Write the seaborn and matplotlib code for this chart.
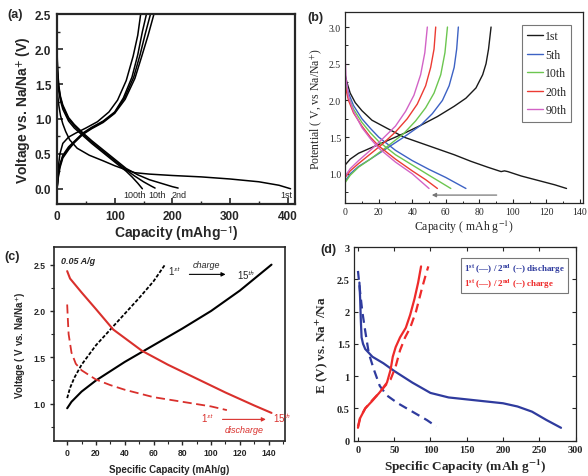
import numpy as np
import pandas as pd
import matplotlib
matplotlib.use("Agg")
import matplotlib.pyplot as plt
from matplotlib.lines import Line2D
from matplotlib.ticker import MultipleLocator, FormatStrFormatter
import seaborn as sns

sns.set_style("ticks")
plt.rcParams["font.family"] = ["Liberation Sans", "DejaVu Sans"]

SANS = "Liberation Sans"
SERIF = "Liberation Serif"

# ---------------- (a) data ----------------
a_dis_1st_x = [0, 1, 3, 6, 10, 15, 22, 35, 56, 80, 100, 120, 135, 160, 200, 250, 300, 350, 385, 405]
a_dis_1st_y = [1.5, 1.35, 1.2, 1.05, 0.93, 0.82, 0.7, 0.58, 0.48, 0.4, 0.33, 0.27, 0.23, 0.21, 0.19, 0.17, 0.14, 0.1, 0.05, 0.0]
a_dis_2nd_x = [0, 1, 3, 6, 10, 20, 30, 45, 60, 75, 90, 105, 120, 140, 160, 180, 200, 210]
a_dis_2nd_y = [1.98, 1.72, 1.48, 1.32, 1.2, 1.02, 0.92, 0.8, 0.69, 0.59, 0.49, 0.39, 0.29, 0.2, 0.13, 0.08, 0.03, 0.01]
a_dis_10th_x = [0, 1, 3, 6, 10, 20, 30, 45, 60, 75, 90, 105, 120, 135, 150, 163, 170]
a_dis_10th_y = [1.92, 1.68, 1.45, 1.3, 1.18, 1.0, 0.9, 0.78, 0.67, 0.57, 0.47, 0.37, 0.27, 0.18, 0.1, 0.04, 0.01]
a_dis_100th_x = [0, 1, 3, 6, 10, 20, 30, 45, 60, 75, 90, 105, 120, 130, 140, 148]
a_dis_100th_y = [1.85, 1.62, 1.4, 1.26, 1.14, 0.97, 0.87, 0.76, 0.65, 0.55, 0.45, 0.35, 0.25, 0.17, 0.08, 0.0]

a_chg_1_x = [0, 2, 5, 10, 20, 33, 50, 70, 90, 105, 120, 132, 140, 145]
a_chg_1_y = [0.0, 0.3, 0.5, 0.65, 0.74, 0.8, 0.87, 0.96, 1.1, 1.27, 1.55, 1.9, 2.2, 2.5]
a_chg_2_x = [0, 2, 5, 10, 20, 30, 45, 60, 80, 100, 115, 130, 140, 148, 155]
a_chg_2_y = [0.0, 0.2, 0.35, 0.48, 0.6, 0.68, 0.8, 0.88, 0.97, 1.1, 1.3, 1.6, 1.92, 2.25, 2.5]
a_chg_3_x = [0, 2, 5, 10, 20, 30, 45, 60, 80, 100, 117, 133, 144, 153, 162]
a_chg_3_y = [0.0, 0.18, 0.33, 0.46, 0.58, 0.67, 0.79, 0.87, 0.96, 1.09, 1.3, 1.6, 1.92, 2.22, 2.5]
a_chg_4_x = [0, 2, 5, 10, 20, 30, 45, 60, 80, 100, 118, 135, 147, 158, 168]
a_chg_4_y = [0.0, 0.15, 0.3, 0.44, 0.56, 0.66, 0.78, 0.86, 0.95, 1.08, 1.28, 1.58, 1.9, 2.2, 2.5]

a_labels = ["100th", "10th", "2nd", "1st"]
a_label_x = [135, 173, 212, 397]

# ---------------- (b) data ----------------
b_cycles = ["1st", "5th", "10th", "20th", "90th"]
b_colors = ["#1a1a1a", "#3d62c4", "#6cc650", "#ec3b33", "#d263c6"]

b_chg_x = [
    [0, 3, 8, 15, 25, 35, 45, 55, 65, 72, 78, 82, 84, 85.5, 86.5, 87],
    [0, 3, 8, 15, 25, 35, 45, 52, 58, 62, 65, 66.5, 67.5],
    [0, 3, 8, 15, 25, 35, 42, 48, 53, 57, 59.5, 61],
    [0, 3, 8, 15, 22, 30, 37, 43, 48, 51, 53, 54],
    [0, 3, 8, 15, 22, 30, 36, 41, 45, 47.5, 49],
]
b_chg_y = [
    [1.12, 1.2, 1.28, 1.35, 1.45, 1.55, 1.66, 1.78, 1.92, 2.03, 2.17, 2.35, 2.5, 2.7, 2.9, 3.0],
    [0.9, 1.0, 1.1, 1.2, 1.35, 1.5, 1.66, 1.82, 2.0, 2.2, 2.45, 2.7, 3.0],
    [0.88, 0.98, 1.09, 1.2, 1.37, 1.55, 1.72, 1.9, 2.1, 2.35, 2.65, 3.0],
    [0.95, 1.04, 1.14, 1.27, 1.4, 1.57, 1.75, 1.95, 2.2, 2.45, 2.7, 3.0],
    [0.97, 1.07, 1.18, 1.32, 1.47, 1.65, 1.85, 2.07, 2.35, 2.65, 3.0],
]
b_dis_x = [
    [0, 1, 3, 6, 10, 16, 25, 35, 45, 55, 65, 75, 85, 93, 95, 97, 105, 115, 125, 132],
    [0, 2, 5, 10, 15, 20, 30, 40, 50, 60, 72],
    [0, 2, 5, 10, 15, 20, 30, 40, 50, 63],
    [0, 2, 5, 10, 15, 20, 30, 40, 48, 55],
    [0, 0.5, 2, 5, 10, 15, 20, 30, 40, 50],
]
b_dis_y = [
    [2.35, 2.25, 2.1, 1.97, 1.86, 1.73, 1.62, 1.5, 1.42, 1.34, 1.26, 1.17, 1.09, 1.03, 1.04, 1.03, 0.97, 0.91, 0.85, 0.8],
    [2.3, 2.1, 1.93, 1.75, 1.62, 1.5, 1.32, 1.18, 1.06, 0.95, 0.8],
    [2.25, 2.05, 1.88, 1.7, 1.56, 1.44, 1.26, 1.12, 0.98, 0.8],
    [2.2, 2.0, 1.83, 1.65, 1.5, 1.38, 1.2, 1.04, 0.92, 0.8],
    [2.6, 2.3, 2.05, 1.85, 1.63, 1.48, 1.35, 1.16, 1.0, 0.8],
]

# ---------------- (c) data ----------------
c_chg_1st_x = [0, 2, 5, 10, 20, 30, 40, 50, 60, 68]
c_chg_1st_y = [1.06, 1.17, 1.28, 1.42, 1.63, 1.8, 1.97, 2.14, 2.32, 2.5]
c_chg_15th_x = [0, 3, 10, 20, 40, 60, 80, 100, 120, 142]
c_chg_15th_y = [0.95, 1.02, 1.13, 1.25, 1.45, 1.63, 1.81, 2.0, 2.22, 2.5]
c_dis_15th_x = [0, 2, 10, 20, 32, 52, 70, 90, 110, 130, 142]
c_dis_15th_y = [2.43, 2.35, 2.2, 2.02, 1.8, 1.57, 1.42, 1.27, 1.12, 0.98, 0.9]
c_dis_1st_x = [0, 0.5, 1, 3, 6, 10, 20, 30, 40, 60, 80, 100, 111]
c_dis_1st_y = [2.07, 1.9, 1.75, 1.55, 1.43, 1.36, 1.26, 1.2, 1.15, 1.07, 1.02, 0.97, 0.93]

# ---------------- (d) data ----------------
d_dis_1st_x = [2, 3, 4, 5, 7, 10, 20, 35, 50, 75, 100, 125, 150, 200, 220, 240, 260, 280]
d_dis_1st_y = [2.45, 2.2, 1.85, 1.6, 1.5, 1.42, 1.3, 1.2, 1.08, 0.9, 0.74, 0.67, 0.64, 0.58, 0.53, 0.45, 0.32, 0.2]
d_dis_2nd_x = [0, 3, 6, 10, 15, 22, 30, 40, 55, 75, 95, 108]
d_dis_2nd_y = [2.63, 2.3, 2.0, 1.7, 1.35, 1.1, 0.85, 0.7, 0.58, 0.45, 0.32, 0.22]
d_chg_1st_x = [0, 3, 10, 20, 30, 40, 45, 48, 52, 58, 66, 72, 78, 83, 87]
d_chg_1st_y = [0.2, 0.35, 0.5, 0.62, 0.75, 0.9, 1.1, 1.3, 1.45, 1.6, 1.75, 1.95, 2.2, 2.45, 2.7]
d_chg_2nd_x = [0, 3, 10, 20, 30, 36, 45, 52, 58, 65, 72, 80, 88, 93, 97]
d_chg_2nd_y = [0.22, 0.36, 0.5, 0.63, 0.75, 0.83, 0.95, 1.15, 1.4, 1.6, 1.75, 2.0, 2.35, 2.55, 2.7]


def line(ax, x, y, color, lw, ls="-"):
    df = pd.DataFrame({"x": x, "y": y})
    sns.lineplot(data=df, x="x", y="y", ax=ax, color=color, lw=lw,
                 linestyle=ls, sort=False, estimator=None)


def style_ticks(ax, family, size, weight="bold"):
    for lab in ax.get_xticklabels() + ax.get_yticklabels():
        lab.set_fontfamily(family)
        lab.set_fontsize(size)
        lab.set_fontweight(weight)


fig = plt.figure(figsize=(5.88, 4.77), dpi=100)

# ================= (a) =================
ax = fig.add_axes([0.097, 0.570, 0.405, 0.398])
for x, y in [(a_dis_1st_x, a_dis_1st_y), (a_dis_2nd_x, a_dis_2nd_y),
             (a_dis_10th_x, a_dis_10th_y), (a_dis_100th_x, a_dis_100th_y),
             (a_chg_1_x, a_chg_1_y), (a_chg_2_x, a_chg_2_y),
             (a_chg_3_x, a_chg_3_y), (a_chg_4_x, a_chg_4_y)]:
    line(ax, x, y, "black", 1.1)
for lab, lx in zip(a_labels, a_label_x):
    ax.text(lx, -0.085, lab, ha="center", va="center", fontsize=6.5, family=SANS)
ax.set_xlim(0, 413)
ax.set_ylim(-0.22, 2.5)
ax.xaxis.set_major_locator(MultipleLocator(100))
ax.xaxis.set_minor_locator(MultipleLocator(50))
ax.yaxis.set_major_locator(MultipleLocator(0.5))
ax.yaxis.set_minor_locator(MultipleLocator(0.25))
ax.yaxis.set_major_formatter(FormatStrFormatter("%.1f"))
ax.tick_params(which="both", direction="in", pad=4)
ax.tick_params(which="major", length=4, width=1.2)
ax.tick_params(which="minor", length=2.5, width=1)
for s in ax.spines.values():
    s.set_linewidth(1.6)
style_ticks(ax, SANS, 8.5)
ax.set_xlabel(r"Capacity (mAhg$^{\mathbf{-1}}$)", fontsize=10, fontweight="bold",
              family=SANS, math_fontfamily="stixsans", labelpad=1)
ax.set_ylabel(r"Voltage vs. Na/Na$^{\mathbf{+}}$ (V)", fontsize=10, fontweight="bold",
              family=SANS, math_fontfamily="stixsans", labelpad=2)
fig.text(0.012, 0.968, "(a)", fontsize=9, fontweight="bold", family=SANS, va="center")

# ================= (b) =================
ax = fig.add_axes([0.587, 0.572, 0.405, 0.400])
for cyc, col, cx, cy, dx, dy in zip(b_cycles, b_colors, b_chg_x, b_chg_y, b_dis_x, b_dis_y):
    line(ax, cx, cy, col, 1.0)
    line(ax, dx, dy, col, 1.0)
ax.annotate("", xy=(50, 0.71), xytext=(92, 0.71),
            arrowprops=dict(arrowstyle="-|>", color="#777777", lw=0.9,
                            mutation_scale=6))
handles = [Line2D([], [], color=c, lw=1.0) for c in b_colors]
leg = ax.legend(handles, b_cycles, loc="upper right", bbox_to_anchor=(0.975, 0.965),
                frameon=True, fancybox=False, handlelength=1.3, handletextpad=0.2,
                labelspacing=0.55, borderpad=0.45, prop={"family": SERIF, "size": 8.5})
leg.get_frame().set_edgecolor("#555555")
leg.get_frame().set_linewidth(0.8)
ax.set_xlim(0, 142)
ax.set_ylim(0.6, 3.2)
ax.xaxis.set_major_locator(MultipleLocator(20))
ax.xaxis.set_minor_locator(MultipleLocator(10))
ax.yaxis.set_major_locator(MultipleLocator(0.5))
ax.yaxis.set_minor_locator(MultipleLocator(0.25))
ax.yaxis.set_major_formatter(FormatStrFormatter("%.1f"))
ax.set_yticks([1.0, 1.5, 2.0, 2.5, 3.0])
ax.tick_params(which="both", direction="in", pad=3)
ax.tick_params(which="major", length=3, width=0.8)
ax.tick_params(which="minor", length=1.8, width=0.7)
for s in ax.spines.values():
    s.set_linewidth(0.9)
style_ticks(ax, SERIF, 7, "normal")
ax.set_xlabel("Capacity ( mAh g$^{-1}$)", fontsize=8.5, family=SERIF,
              math_fontfamily="stix", labelpad=1)
ax.set_ylabel("Potential ( V, vs Na/Na$^{+}$)", fontsize=8.5, family=SERIF,
              math_fontfamily="stix", labelpad=3)
fig.text(0.523, 0.962, "(b)", fontsize=9, fontweight="bold", family=SANS, va="center")

# ================= (c) =================
ax = fig.add_axes([0.091, 0.074, 0.394, 0.406])
red = "#d9302c"
line(ax, c_chg_1st_x, c_chg_1st_y, "black", 1.3, (0, (2, 1)))
line(ax, c_chg_15th_x, c_chg_15th_y, "black", 1.5)
line(ax, c_dis_15th_x, c_dis_15th_y, red, 1.5)
line(ax, c_dis_1st_x, c_dis_1st_y, red, 1.3, (0, (5, 2.5)))
ax.text(-4.6, 2.55, "0.05 A/g", fontsize=6.5, fontweight="bold", style="italic",
        family=SANS, va="center")
ax.text(70, 2.44, "1$^{st}$", fontsize=7, family=SANS, va="center",
        math_fontfamily="stixsans")
ax.text(97, 2.5, "charge", fontsize=6.5, style="italic", family=SANS,
        ha="center", va="center")
ax.annotate("", xy=(112, 2.395), xytext=(83, 2.395),
            arrowprops=dict(arrowstyle="-|>", color="black", lw=0.8, mutation_scale=6))
ax.text(118, 2.4, "15$^{th}$", fontsize=7, family=SANS, va="center",
        math_fontfamily="stixsans")
ax.text(93, 0.85, "1$^{st}$", fontsize=7, family=SANS, va="center", color=red,
        math_fontfamily="stixsans")
ax.annotate("", xy=(140, 0.83), xytext=(106, 0.83),
            arrowprops=dict(arrowstyle="-|>", color=red, lw=0.8, mutation_scale=6))
ax.text(123, 0.72, "discharge", fontsize=6.5, style="italic", family=SANS,
        ha="center", va="center", color=red)
ax.text(143, 0.85, "15$^{th}$", fontsize=7, family=SANS, va="center", color=red,
        math_fontfamily="stixsans")
ax.set_xlim(-9.5, 151.5)
ax.set_ylim(0.6, 2.69)
ax.xaxis.set_major_locator(MultipleLocator(20))
ax.xaxis.set_minor_locator(MultipleLocator(10))
ax.yaxis.set_major_locator(MultipleLocator(0.5))
ax.yaxis.set_minor_locator(MultipleLocator(0.25))
ax.yaxis.set_major_formatter(FormatStrFormatter("%.1f"))
ax.set_xticks([0, 20, 40, 60, 80, 100, 120, 140])
ax.set_yticks([1.0, 1.5, 2.0, 2.5])
ax.tick_params(which="both", direction="out", pad=2.5)
ax.tick_params(which="major", length=3, width=1)
ax.tick_params(which="minor", length=2, width=0.8)
for s in ax.spines.values():
    s.set_linewidth(1.2)
style_ticks(ax, SANS, 6.2)
ax.set_xlabel("Specific Capacity (mAh/g)", fontsize=7, fontweight="bold",
              family=SANS, labelpad=5)
ax.set_ylabel(r"Voltage ( V vs. Na/Na$^{\mathbf{+}}$)", fontsize=7, fontweight="bold",
              family=SANS, math_fontfamily="stixsans", labelpad=4)
fig.text(0.008, 0.462, "(c)", fontsize=9, fontweight="bold", family=SANS, va="center")

# ================= (d) =================
ax = fig.add_axes([0.602, 0.074, 0.378, 0.406])
blue = "#2f3b9e"
red_d = "#ee2a2a"
line(ax, d_dis_1st_x, d_dis_1st_y, blue, 1.6)
line(ax, d_dis_2nd_x, d_dis_2nd_y, blue, 1.6, (0, (4, 2.5)))
line(ax, d_chg_1st_x, d_chg_1st_y, red_d, 1.6)
line(ax, d_chg_2nd_x, d_chg_2nd_y, red_d, 1.6, (0, (4, 2.5)))
dummy = [Line2D([], [], alpha=0), Line2D([], [], alpha=0)]
leg = ax.legend(dummy, [r"1$^{\mathbf{st}}$ (—) / 2$^{\mathbf{nd}}$ (--) discharge",
                        r"1$^{\mathbf{st}}$ (—) / 2$^{\mathbf{nd}}$ (--) charge"],
                loc="upper right", bbox_to_anchor=(0.985, 0.965), frameon=True,
                fancybox=False, handlelength=0, handletextpad=0, labelspacing=0.2,
                borderpad=0.35, labelcolor=[blue, red_d],
                prop={"family": SERIF, "size": 6.5, "weight": "bold"})
leg.get_frame().set_edgecolor("#555555")
leg.get_frame().set_linewidth(0.8)
for t in leg.get_texts():
    t.set_math_fontfamily("stix")
ax.set_xlim(-5.5, 301)
ax.set_ylim(0, 3)
ax.xaxis.set_major_locator(MultipleLocator(50))
ax.yaxis.set_major_locator(MultipleLocator(0.5))
ax.yaxis.set_major_formatter(FormatStrFormatter("%g"))
ax.tick_params(which="both", direction="in", top=True, right=True, pad=3)
ax.tick_params(which="major", length=3, width=0.8)
for s in ax.spines.values():
    s.set_linewidth(0.9)
style_ticks(ax, SERIF, 7.5)
ax.set_xlabel(r"Specific Capacity (mAh g$^{\mathbf{-1}}$)", fontsize=9.5, fontweight="bold",
              family=SERIF, math_fontfamily="stix", labelpad=2)
ax.set_ylabel(r"E (V) vs. Na$^{\mathbf{+}}$/Na", fontsize=9.5, fontweight="bold",
              family=SERIF, math_fontfamily="stix", labelpad=5)
fig.text(0.545, 0.476, "(d)", fontsize=9, fontweight="bold", family=SANS, va="center")

fig.savefig("out.png", dpi=100)
